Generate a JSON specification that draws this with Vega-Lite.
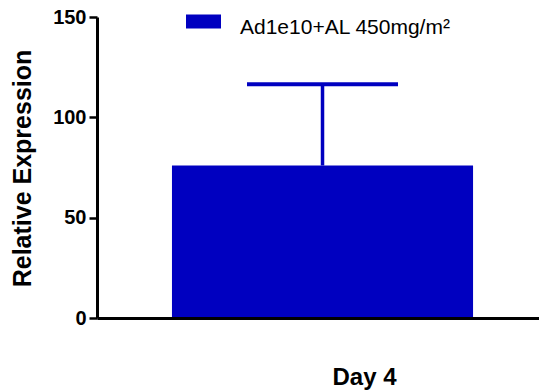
{
  "$schema": "https://vega.github.io/schema/vega-lite/v6.json",
  "width": 442,
  "height": 301,
  "autosize": {"type": "none"},
  "padding": {"left": 97, "top": 17, "right": 0, "bottom": 73},
  "background": "white",
  "config": {"view": {"stroke": null}, "font": "Liberation Sans"},
  "data": {"values": [{"day": "Day 4", "group": "Ad1e10+AL 450mg/m²", "mean": 76, "upper": 116.5}]},
  "encoding": {
    "x": {
      "field": "day",
      "type": "nominal",
      "scale": {"paddingInner": 0, "paddingOuter": 0.234, "align": 0.532},
      "axis": {
        "title": "Day 4",
        "domainColor": "black",
        "domainWidth": 3,
        "ticks": false,
        "labels": false,
        "zindex": 1,
        "titleFont": "Liberation Sans",
        "titleFontSize": 24,
        "titleFontWeight": "bold",
        "titleColor": "black",
        "titleX": 267,
        "titleY": 59,
        "titleAlign": "center",
        "titleBaseline": "middle"
      }
    }
  },
  "layer": [
    {
      "mark": {"type": "bar", "color": "#0000C0"},
      "encoding": {
        "y": {
          "field": "mean",
          "type": "quantitative",
          "scale": {"domain": [0, 150], "nice": false},
          "axis": {
            "title": "Relative Expression",
            "values": [0, 50, 100, 150],
            "grid": false,
            "zindex": 1,
            "domainColor": "black",
            "domainWidth": 3,
            "tickColor": "black",
            "tickWidth": 2.5,
            "tickSize": 8,
            "labelFont": "Liberation Sans",
            "labelFontSize": 20,
            "labelFontWeight": "bold",
            "labelColor": "black",
            "labelPadding": 3,
            "titleFont": "Liberation Sans",
            "titleFontSize": 25,
            "titleFontWeight": "bold",
            "titleColor": "black",
            "titleX": -75,
            "titleY": 151,
            "titleAlign": "center",
            "titleBaseline": "middle"
          }
        },
        "color": {
          "field": "group",
          "type": "nominal",
          "scale": {"range": ["#0000C0"]},
          "legend": {
            "title": null,
            "orient": "none",
            "legendX": 89,
            "legendY": -13,
            "padding": 0,
            "symbolType": "M-1,-0.4H1V0.4H-1Z",
            "symbolSize": 1225,
            "symbolStrokeWidth": 0,
            "symbolOpacity": 1,
            "labelFont": "Liberation Sans",
            "labelFontSize": 21,
            "labelColor": "black",
            "labelOffset": 19,
            "labelLimit": 400,
            "encode": {"labels": {"update": {"dy": {"value": 6}}}}
          }
        }
      }
    },
    {
      "mark": {"type": "rule", "color": "#0000C0", "strokeWidth": 3.5},
      "encoding": {
        "y": {"field": "mean", "type": "quantitative"},
        "y2": {"field": "upper"}
      }
    },
    {
      "mark": {"type": "tick", "color": "#0000C0", "thickness": 4, "size": 151, "orient": "horizontal", "opacity": 1},
      "encoding": {
        "y": {"field": "upper", "type": "quantitative"}
      }
    }
  ]
}
